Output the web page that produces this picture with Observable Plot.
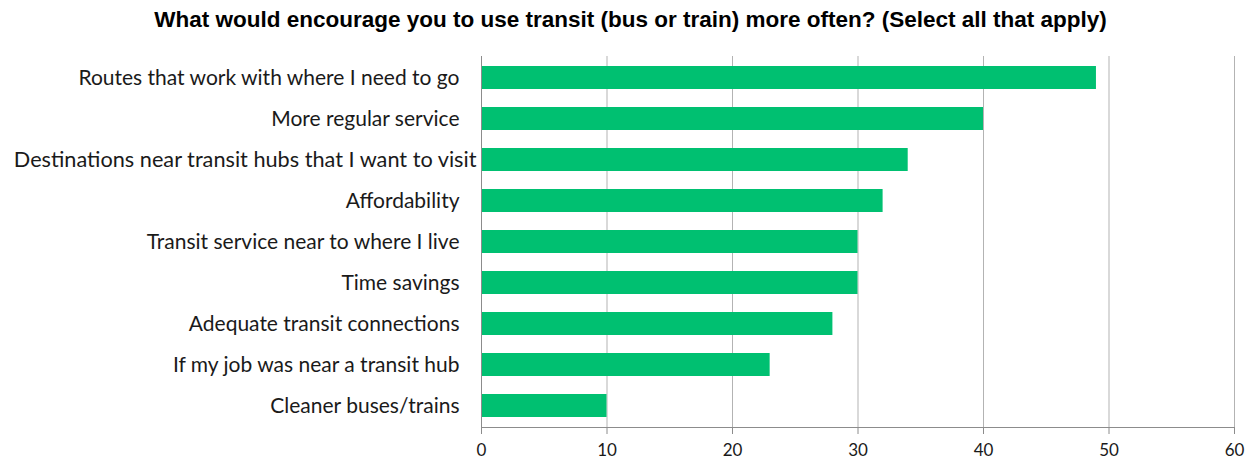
<!DOCTYPE html>
<html><head><meta charset="utf-8">
<script src="https://cdn.jsdelivr.net/npm/d3@7"></script>
<script src="https://cdn.jsdelivr.net/npm/@observablehq/plot@0.6"></script>
<style>
body{margin:0;background:#fff;}
#title{height:40px;line-height:40px;text-align:center;font-family:"Liberation Sans",Arial,sans-serif;font-weight:bold;font-size:22.5px;color:#000;padding-left:6px;box-sizing:border-box;}
</style>
</head><body>
<div id="title">What would encourage you to use transit (bus or train) more often? (Select all that apply)</div>
<div id="chart"></div>
<script>
const categories = [
  "Routes that work with where I need to go",
  "More regular service",
  "Destinations near transit hubs that I want to visit",
  "Affordability",
  "Transit service near to where I live",
  "Time savings",
  "Adequate transit connections",
  "If my job was near a transit hub",
  "Cleaner buses/trains"
];
const values = [49, 40, 34, 32, 30, 30, 28, 23, 10];
const xTicks = [0, 10, 20, 30, 40, 50, 60];
const longLabel = categories[2];
const data = categories.map((c, i) => ({category: c, value: values[i]}));

const chart = Plot.plot({
  width: 1255,
  height: 422,
  marginLeft: 481,
  marginRight: 21,
  marginTop: 16,
  marginBottom: 35,
  style: {fontFamily: "Lato, sans-serif", fontSize: "17px", color: "#1a1a1a", background: "#fff"},
  x: {domain: [0, 60], ticks: xTicks},
  y: {domain: categories, paddingInner: 0.45, paddingOuter: 0.225},
  marks: [
    Plot.ruleX(xTicks.filter(d => d > 0), {stroke: "#b3b3b3", strokeWidth: 1}),
    Plot.barX(data, {x: "value", y: "category", fill: "#00c071"}),
    Plot.ruleX([0], {stroke: "#8c8c8c"}),
    Plot.frame({anchor: "bottom", stroke: "#8c8c8c"}),
    Plot.axisX({ticks: xTicks, tickSize: 7, tickPadding: 9, stroke: "#8c8c8c", label: null, fontSize: 17, style: {letterSpacing: "0.5px"}}),
    Plot.axisY({ticks: categories.filter(c => c !== longLabel), tickSize: 0, tickPadding: 22, label: null, fontSize: 21, style: {letterSpacing: "1.3px"}}),
    Plot.axisY({ticks: [longLabel], tickSize: 0, tickPadding: 5, label: null, fontSize: 21.7, style: {letterSpacing: "1.3px"}})
  ]
});
document.getElementById("chart").appendChild(chart);
</script>
</body></html>
